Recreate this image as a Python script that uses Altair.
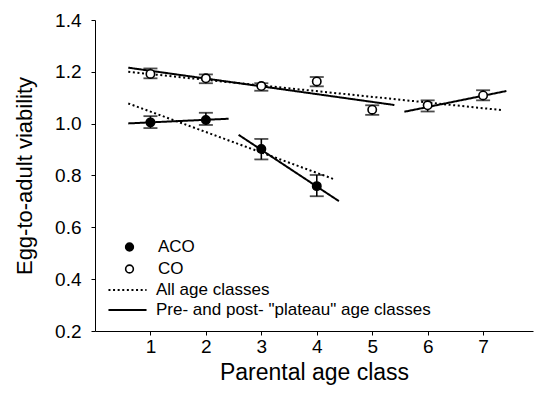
import altair as alt
import pandas as pd

# --- data ---
ages_aco = [1, 2, 3, 4]
aco_mean = [1.005, 1.014, 0.902, 0.759]
aco_lo = [0.983, 0.995, 0.862, 0.720]
aco_hi = [1.029, 1.042, 0.941, 0.802]

ages_co = [1, 2, 3, 4, 5, 6, 7]
co_mean = [1.192, 1.175, 1.145, 1.163, 1.054, 1.071, 1.109]
co_lo = [1.175, 1.156, 1.127, 1.144, 1.034, 1.047, 1.090]
co_hi = [1.213, 1.190, 1.156, 1.180, 1.071, 1.090, 1.129]

# fitted lines: segment id, fit type, end x, end y
seg_ids = ["co_all", "co_pre", "co_post", "aco_all", "aco_pre", "aco_post"]
seg_fit = ["All age classes", "Pre- and post- \"plateau\" age classes",
           "Pre- and post- \"plateau\" age classes", "All age classes",
           "Pre- and post- \"plateau\" age classes",
           "Pre- and post- \"plateau\" age classes"]
seg_x0 = [0.6, 0.6, 5.58, 0.6, 0.6, 2.59]
seg_x1 = [7.35, 5.4, 7.42, 4.32, 2.41, 4.4]
seg_y0 = [1.200, 1.216, 1.046, 1.078, 1.001, 0.957]
seg_y1 = [1.052, 1.072, 1.126, 0.785, 1.019, 0.701]

fit_order = ["All age classes", "Pre- and post- \"plateau\" age classes"]
grp_order = ["ACO", "CO"]

pts = pd.DataFrame({
    "age": ages_aco + ages_co,
    "mean": aco_mean + co_mean,
    "lo": aco_lo + co_lo,
    "hi": aco_hi + co_hi,
    "grp": ["ACO"] * len(ages_aco) + ["CO"] * len(ages_co),
})

rows = []
for i, s in enumerate(seg_ids):
    rows.append({"seg": s, "fit": seg_fit[i], "x": seg_x0[i], "y": seg_y0[i], "o": 0})
    rows.append({"seg": s, "fit": seg_fit[i], "x": seg_x1[i], "y": seg_y1[i], "o": 1})
lines = pd.DataFrame(rows)

FONT = "Liberation Sans"

xscale = alt.Scale(domain=[0, 7.9], nice=False, zero=False)
yscale = alt.Scale(domain=[0.2, 1.4], nice=False, zero=False)

xaxis = alt.Axis(title="Parental age class", values=[1, 2, 3, 4, 5, 6, 7],
                 grid=False, domainColor="black", tickColor="black",
                 tickSize=4, labelFontSize=19, titleFontSize=23,
                 labelPadding=2, titlePadding=5, labelColor="black",
                 titleColor="black", titleFontWeight="normal", labelFont=FONT,
                 titleFont=FONT)
yaxis = alt.Axis(title="Egg-to-adult viability",
                 values=[0.2, 0.4, 0.6, 0.8, 1.0, 1.2, 1.4], format=".1f",
                 grid=False, domainColor="black", tickColor="black",
                 tickSize=4, labelFontSize=19, titleFontSize=22,
                 labelPadding=10, titlePadding=18, labelColor="black",
                 titleColor="black", titleFontWeight="normal", labelFont=FONT,
                 titleFont=FONT)

base_lines = alt.Chart(lines).mark_line(color="black", strokeWidth=2).encode(
    x=alt.X("x:Q", scale=xscale, axis=xaxis),
    y=alt.Y("y:Q", scale=yscale, axis=yaxis),
    detail="seg:N",
    order="o:Q",
    strokeDash=alt.StrokeDash(
        "fit:N",
        scale=alt.Scale(domain=fit_order, range=[[2, 2.6], [1, 0]]),
        legend=alt.Legend(title=None, orient="none", legendX=12, legendY=260,
                          symbolType="stroke", symbolSize=1450,
                          symbolStrokeWidth=2, symbolStrokeColor="black",
                          clipHeight=20, rowPadding=0,
                          labelFontSize=17, labelFont=FONT, labelColor="black",
                          labelOffset=8, labelLimit=400),
    ),
)

bars = alt.Chart(pts).mark_rule(color="black", strokeWidth=1.6).encode(
    x=alt.X("age:Q", scale=xscale),
    y=alt.Y("lo:Q", scale=yscale),
    y2="hi:Q",
)
cap_lo = alt.Chart(pts).mark_tick(color="black", orient="horizontal", size=14,
                                  thickness=1.8).encode(
    x=alt.X("age:Q", scale=xscale), y=alt.Y("lo:Q", scale=yscale))
cap_hi = alt.Chart(pts).mark_tick(color="black", orient="horizontal", size=14,
                                  thickness=1.8).encode(
    x=alt.X("age:Q", scale=xscale), y=alt.Y("hi:Q", scale=yscale))

points = alt.Chart(pts).mark_point(shape="circle", size=70, stroke="black",
                                   strokeWidth=1.6, opacity=1,
                                   filled=False).encode(
    x=alt.X("age:Q", scale=xscale),
    y=alt.Y("mean:Q", scale=yscale),
    fill=alt.Fill(
        "grp:N",
        scale=alt.Scale(domain=grp_order, range=["black", "white"]),
        legend=alt.Legend(title=None, orient="none", legendX=26, legendY=216,
                          symbolType="circle", symbolSize=60,
                          symbolStrokeColor="black", symbolStrokeWidth=1.6,
                          clipHeight=22, rowPadding=0,
                          labelFontSize=17, labelFont=FONT, labelColor="black",
                          labelOffset=20),
    ),
)

chart = alt.layer(base_lines, bars, cap_lo, cap_hi, points).resolve_legend(
    fill="independent", strokeDash="independent"
).properties(
    width=438, height=311,
    autosize=alt.AutoSizeParams(type="none"),
    padding={"left": 95, "top": 20, "right": 1, "bottom": 62},
).configure_view(stroke=None).configure_axis(domainWidth=1, tickWidth=1)

chart.save("out.html", embed_options={"renderer": "svg", "actions": False})
